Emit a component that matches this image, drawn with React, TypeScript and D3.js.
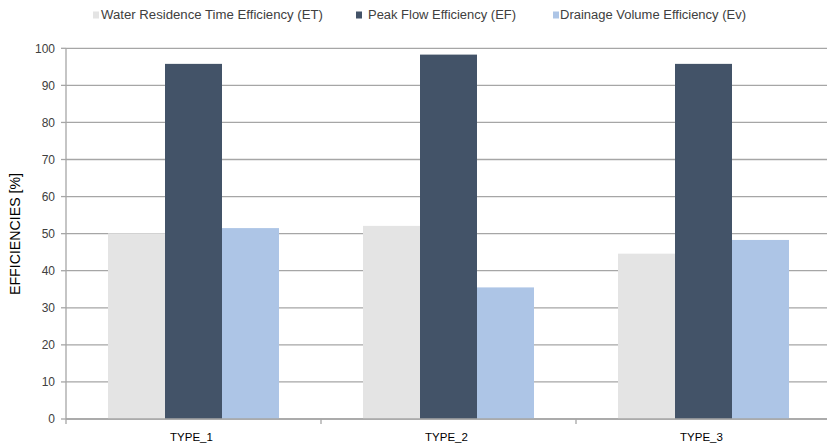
import React from "react";
import * as d3 from "d3";

const categories = ["TYPE_1", "TYPE_2", "TYPE_3"];
const seriesNames = [
  "Water Residence Time Efficiency (ET)",
  "Peak Flow Efficiency (EF)",
  "Drainage Volume Efficiency (Ev)",
];
const etValues = [50.1, 52.1, 44.6];
const efValues = [95.8, 98.3, 95.8];
const evValues = [51.5, 35.5, 48.3];
const yTicks = [0, 10, 20, 30, 40, 50, 60, 70, 80, 90, 100];
const colors = ["#e4e4e4", "#435368", "#adc5e6"];

const W = 827;
const H = 447;
const left = 66;
const y0 = 419;
const y100 = 48.3;

export default function App() {
  const series = [etValues, efValues, evValues];
  const x = d3.scaleBand<string>().domain(categories).range([left, left + 255 * 3]).padding(0);
  const bw = x.bandwidth();
  const x1 = d3
    .scaleBand<number>()
    .domain([0, 1, 2])
    .range([42, 42 + 57 * 3])
    .padding(0);
  const y = d3.scaleLinear().domain([0, 100]).range([y0, y100]);
  const font = "'Liberation Sans', Arial, sans-serif";
  const legendX = [{ sw: 93, tx: 101, tEnd: 323 }, { sw: 356, tx: 368, tEnd: 516 }, { sw: 553, tx: 560, tEnd: 746 }];

  return (
    <svg
      width={W}
      height={H}
      style={{ position: "absolute", left: 0, top: 0, background: "#fff" }}
      fontFamily={font}
    >
      {/* gridlines */}
      {yTicks.map((t) => (
        <g key={t}>
          <line x1={left} x2={W} y1={y(t)} y2={y(t)} stroke="#a6a6a6" strokeWidth={1.3} />
          <line x1={left - 5} x2={left} y1={y(t)} y2={y(t)} stroke="#a6a6a6" strokeWidth={1.3} />
          <text x={55} y={y(t)} dy="0.35em" textAnchor="end" fontSize={12} fill="#404040">
            {t}
          </text>
        </g>
      ))}
      {/* bars */}
      {categories.map((c, i) => (
        <g key={c} transform={`translate(${x(c)},0)`}>
          {series.map((s, j) => (
            <rect
              key={j}
              x={x1(j)}
              y={y(s[i])}
              width={x1.bandwidth()}
              height={y0 - y(s[i])}
              fill={colors[j]}
            />
          ))}
        </g>
      ))}
      {/* axes */}
      <line x1={left} x2={left} y1={y100} y2={y0 + 5} stroke="#a6a6a6" strokeWidth={1.3} />
      <line x1={left} x2={W} y1={y0} y2={y0} stroke="#a6a6a6" strokeWidth={1.3} />
      {categories.map((c) => (
        <line key={c} x1={(x(c) as number) + bw} x2={(x(c) as number) + bw} y1={y0} y2={y0 + 5} stroke="#a6a6a6" strokeWidth={1.3} />
      ))}
      {categories.map((c) => (
        <text key={c} x={(x(c) as number) + bw / 2 - 2} y={437} dy="0.35em" textAnchor="middle" fontSize={11.5} fill="#000">
          {c}
        </text>
      ))}
      {/* y label */}
      <text
        transform={`translate(15,234) rotate(-90)`}
        textAnchor="middle"
        dy="0.35em"
        fontSize={14}
        fill="#000"
        textLength={122}
        lengthAdjust="spacingAndGlyphs"
      >
        EFFICIENCIES [%]
      </text>
      {/* legend */}
      {seriesNames.map((n, j) => (
        <g key={n}>
          <rect x={legendX[j].sw} y={11.5} width={6} height={7} fill={colors[j]} />
          <text
            x={legendX[j].tx}
            y={15}
            dy="0.35em"
            fontSize={12}
            fill="#404040"
            textLength={legendX[j].tEnd - legendX[j].tx}
            lengthAdjust="spacingAndGlyphs"
          >
            {n}
          </text>
        </g>
      ))}
    </svg>
  );
}
